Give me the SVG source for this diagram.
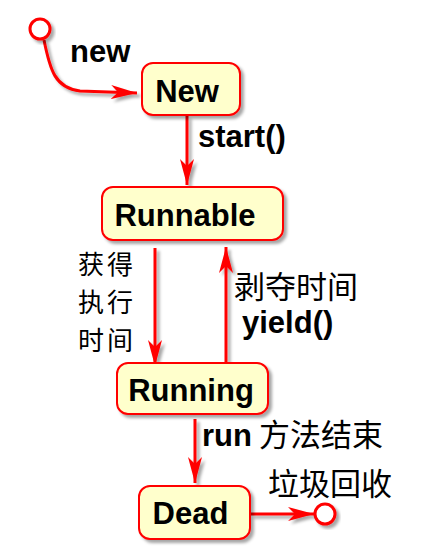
<svg xmlns="http://www.w3.org/2000/svg" width="434" height="547" viewBox="0 0 434 547">
<defs>
<style>
.box{fill:#FFFFCC;stroke:#FF0000;stroke-width:2}
.lbl{font-family:"Liberation Sans",Arial,sans-serif;font-weight:bold;font-size:31px;fill:#000}
.cn{font-family:"Noto Sans CJK SC","DejaVu Sans",sans-serif;font-size:31px;fill:#000}
.cs{font-family:"Noto Sans CJK SC","DejaVu Sans",sans-serif;font-size:26px;letter-spacing:3px;fill:#000}
.edge{fill:none;stroke:#FF0000;stroke-width:3;marker-end:url(#ah)}
.dot{fill:#fff;stroke:#FF0000;stroke-width:3}
</style>
<marker id="ah" markerUnits="userSpaceOnUse" markerWidth="28" markerHeight="16" refX="26" refY="7" orient="auto">
<path d="M0,0 L26,7 L0,14 L7,7 z" fill="#FF0000"/>
</marker>
<filter id="sh" x="-20%" y="-20%" width="150%" height="150%">
<feDropShadow dx="3" dy="3" stdDeviation="1.5" flood-color="#000" flood-opacity="0.35"/>
</filter>
</defs>
<g id="connectors" filter="url(#sh)">
<path class="edge" d="M44,40 C50,70 55,88 80,91 L137,93"/>
<path class="edge" d="M187,116 L187,185"/>
<path class="edge" d="M155,248 L155,366"/>
<path class="edge" d="M226,364 L226,247"/>
<path class="edge" d="M195,419 L195,483"/>
<path class="edge" d="M251,514 L314,514"/>
</g>
<g id="start" filter="url(#sh)"><circle class="dot" cx="40" cy="29" r="10"/></g>
<g id="end" filter="url(#sh)"><circle class="dot" cx="325" cy="514" r="10"/></g>
<g id="n-new"><rect class="box" x="142" y="63" width="98" height="52" rx="11" filter="url(#sh)"/><text class="lbl" x="187" y="102" text-anchor="middle">New</text></g>
<g id="n-runnable"><rect class="box" x="102" y="187" width="181" height="53" rx="11" filter="url(#sh)"/><text class="lbl" x="185" y="226" text-anchor="middle">Runnable</text></g>
<g id="n-running"><rect class="box" x="117" y="363" width="151" height="51" rx="11" filter="url(#sh)"/><text class="lbl" x="191" y="401" text-anchor="middle">Running</text></g>
<g id="n-dead"><rect class="box" x="139" y="486" width="111" height="53" rx="11" filter="url(#sh)"/><text class="lbl" x="190.5" y="524" text-anchor="middle">Dead</text></g>
<g id="labels">
<text class="lbl" x="70" y="62">new</text>
<text class="lbl" x="198" y="147">start()</text>
<text class="cs" x="78" y="274">获得</text>
<text class="cs" x="78" y="312">执行</text>
<text class="cs" x="78" y="350">时间</text>
<text class="cn" x="234" y="298">剥夺时间</text>
<text class="lbl" x="242" y="333">yield()</text>
<text x="202" y="446"><tspan class="lbl">run</tspan><tspan class="cn"> 方法结束</tspan></text>
<text class="cn" x="268" y="495">垃圾回收</text>
</g>
</svg>
